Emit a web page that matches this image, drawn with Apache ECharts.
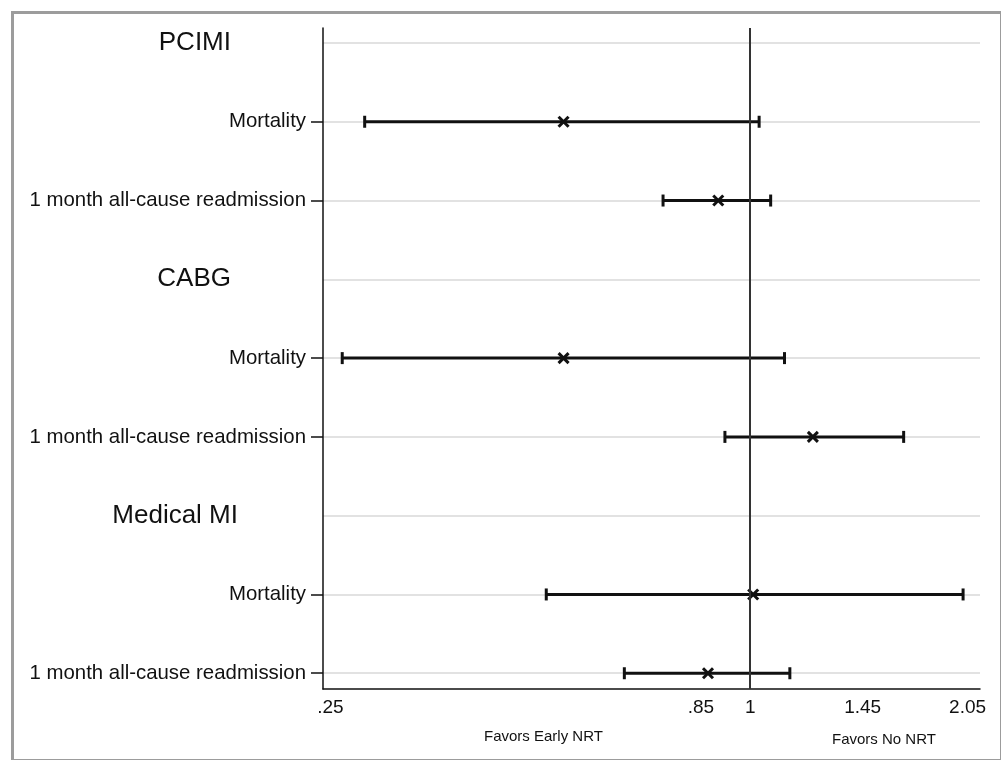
<!DOCTYPE html>
<html>
<head>
<meta charset="utf-8">
<script src="https://cdn.jsdelivr.net/npm/echarts@6/dist/echarts.min.js"></script>
<style>
html,body{margin:0;padding:0;background:#fff;}
#c{width:1001px;height:760px;}
</style>
</head>
<body>
<div id="c"></div>
<script>
// Row labels (top to bottom); header rows have no estimate
const rows = ['PCIMI', 'Mortality', '1 month all-cause readmission',
              'CABG', 'Mortality', '1 month all-cause readmission',
              'Medical MI', 'Mortality', '1 month all-cause readmission'];
const headerRows = [0, 3, 6];
const dataRows = [1, 2, 4, 5, 7, 8];
// Odds ratios and 95% CI for data rows
const estimate = [0.54, 0.90, 0.54, 1.23, 1.01, 0.87];
const lower    = [0.28, 0.75, 0.26, 0.92, 0.51, 0.66];
const upper    = [1.03, 1.07, 1.12, 1.66, 2.02, 1.14];
// x-axis ticks
const xTicks = [0.25, 0.85, 1, 1.45, 2.05];
const xTickLabels = ['.25', '.85', '1', '1.45', '2.05'];
const refValue = 1;

const FONT = '"Liberation Sans", Arial, Helvetica, sans-serif';

const seriesData = dataRows.map((r, i) => [r, lower[i], estimate[i], upper[i]]);

const chart = echarts.init(document.getElementById('c'), null, {renderer: 'canvas'});

function xLabel(v) {
  let best = 0, bd = Infinity;
  xTicks.forEach((t, i) => { const d = Math.abs(Math.log(t) - Math.log(v)); if (d < bd) { bd = d; best = i; } });
  return xTickLabels[best];
}

const option = {
  backgroundColor: '#ffffff',
  animation: false,
  grid: { left: 323, right: 21, top: 28, bottom: 71, outerBoundsMode: 'none', containLabel: false },
  xAxis: {
    type: 'log',
    min: 0.244,
    max: 2.136,
    position: 'bottom',
    axisLine: { show: true, onZero: false, lineStyle: { color: '#111', width: 1.5 } },
    axisTick: { show: false, customValues: xTicks },
    splitLine: { show: false },
    minorTick: { show: false },
    axisLabel: {
      customValues: xTicks,
      formatter: xLabel,
      color: '#111',
      fontFamily: FONT,
      fontSize: 19,
      margin: 9,
      showMinLabel: true,
      showMaxLabel: true
    }
  },
  yAxis: [
    {
      type: 'value',
      inverse: true,
      min: -0.19,
      max: 8.2,
      position: 'left',
      axisLine: { show: true, onZero: false, lineStyle: { color: '#111', width: 1.5 } },
      axisTick: { show: true, customValues: dataRows, length: 12, lineStyle: { color: '#111', width: 1.5 } },
      splitLine: { show: false },
      axisLabel: {
        customValues: dataRows,
        formatter: v => rows[Math.round(v)],
        color: '#111',
        fontFamily: FONT,
        fontSize: 20.4,
        margin: 17
      }
    },
    {
      type: 'value',
      inverse: true,
      min: -0.19,
      max: 8.2,
      position: 'left',
      axisLine: { show: false, onZero: false },
      axisTick: { show: false, customValues: rows.map((_, i) => i) },
      splitLine: { show: true, lineStyle: { color: '#e2e2e2', width: 2 } },
      axisLabel: {
        customValues: headerRows,
        formatter: v => {
          const t = rows[Math.round(v)];
          return t === 'Medical MI' ? '{m|' + t + '}' : '{h|' + t + '}';
        },
        margin: 85,
        rich: {
          h: { fontSize: 26, fontFamily: FONT, color: '#111', padding: [0, 7, 0, 0] },
          m: { fontSize: 26, fontFamily: FONT, color: '#111' }
        }
      }
    }
  ],
  series: [
    {
      type: 'custom',
      coordinateSystem: 'cartesian2d',
      xAxisIndex: 0,
      yAxisIndex: 0,
      encode: { x: [1, 2, 3], y: 0 },
      data: seriesData,
      renderItem: function (params, api) {
        const y = api.value(0);
        const pL = api.coord([api.value(1), y]);
        const pE = api.coord([api.value(2), y]);
        const pH = api.coord([api.value(3), y]);
        const cap = 6, m = 5;
        const st = { stroke: '#111', lineWidth: 3 };
        return {
          type: 'group',
          children: [
            { type: 'line', shape: { x1: pL[0], y1: pL[1], x2: pH[0], y2: pH[1] }, style: st },
            { type: 'line', shape: { x1: pL[0], y1: pL[1] - cap, x2: pL[0], y2: pL[1] + cap }, style: st },
            { type: 'line', shape: { x1: pH[0], y1: pH[1] - cap, x2: pH[0], y2: pH[1] + cap }, style: st },
            { type: 'line', shape: { x1: pE[0] - m, y1: pE[1] - m, x2: pE[0] + m, y2: pE[1] + m }, style: { stroke: '#111', lineWidth: 3 } },
            { type: 'line', shape: { x1: pE[0] - m, y1: pE[1] + m, x2: pE[0] + m, y2: pE[1] - m }, style: { stroke: '#111', lineWidth: 3 } }
          ]
        };
      },
      markLine: {
        silent: true,
        symbol: 'none',
        label: { show: false },
        lineStyle: { color: '#333', width: 2, type: 'solid' },
        data: [{ xAxis: refValue }]
      },
      z: 3
    }
  ],
  graphic: [
    {
      type: 'rect',
      left: 10, top: 10,
      shape: { width: 989, height: 748 },
      style: { fill: 'none', stroke: '#9c9c9c', lineWidth: 3 },
      silent: true
    },
    {
      type: 'text',
      left: 484, top: 729,
      style: { text: 'Favors Early NRT', font: '15px ' + FONT, fill: '#111' }
    },
    {
      type: 'text',
      left: 832, top: 732,
      style: { text: 'Favors No NRT', font: '15px ' + FONT, fill: '#111' }
    }
  ]
};

chart.setOption(option);
</script>
</body>
</html>
